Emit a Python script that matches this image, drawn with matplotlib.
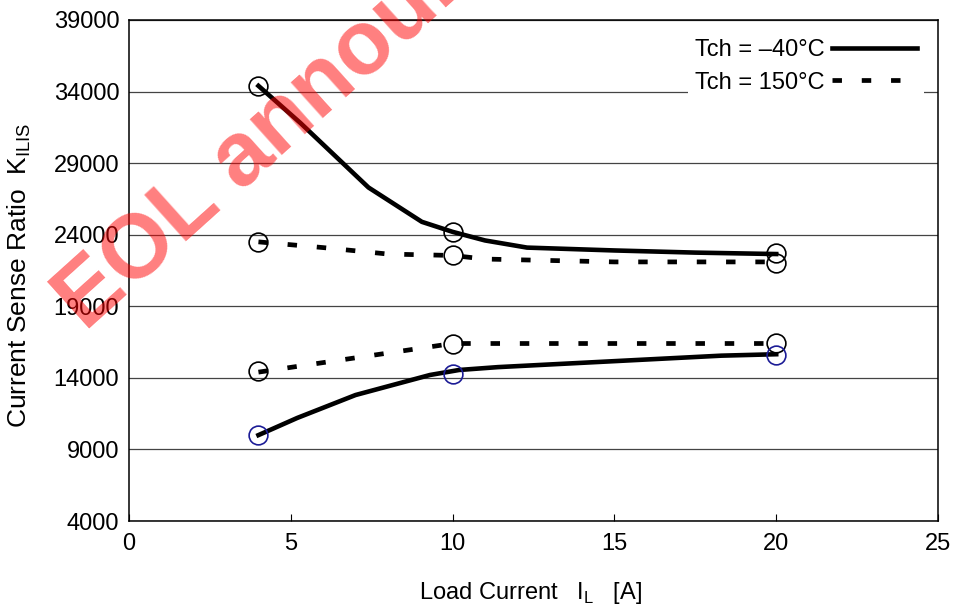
from matplotlib import pyplot as plt

plt.rcParams['font.family'] = ['Liberation Sans', 'DejaVu Sans']

# Tch = -40 C, upper and lower curves
x_cold_hi = [4, 5.3, 7.4, 9.05, 10, 11, 12.3, 15, 17.5, 20]
y_cold_hi = [34400, 31800, 27300, 24900, 24200, 23600, 23100, 22900, 22750, 22650]
x_cold_lo = [4, 5.2, 7, 9.3, 10.2, 11.4, 18.3, 20]
y_cold_lo = [10000, 11200, 12800, 14200, 14550, 14750, 15550, 15650]

# Tch = 150 C, upper and lower curves
x_hot_hi = [4, 6, 8, 10, 11, 15, 20]
y_hot_hi = [23500, 23100, 22650, 22550, 22300, 22100, 22100]
x_hot_lo = [4, 10, 20]
y_hot_lo = [14400, 16400, 16400]

# measured points (circles)
mk_x = [4, 10, 20, 4, 10, 20, 4, 10, 20]
mk_y = [34400, 24200, 22700, 23500, 22600, 22050, 14450, 16400, 16450]
mk_blue_x = [4, 10, 20]
mk_blue_y = [10000, 14250, 15600]

fig = plt.figure(figsize=(9.58, 6.12), dpi=100)
ax = fig.add_axes([129/958, 1-521/612, 809/958, 501/612])

ax.plot(x_cold_hi, y_cold_hi, c='k', lw=3.3, label='Tch = \u201340\u00b0C', zorder=3)
ax.plot(x_cold_lo, y_cold_lo, c='k', lw=3.3, zorder=3)
ax.plot(x_hot_hi, y_hot_hi, c='k', lw=3.4, ls=(0, (2.0, 4.2)), dash_capstyle='butt',
        label='Tch = 150\u00b0C', zorder=3)
ax.plot(x_hot_lo, y_hot_lo, c='k', lw=3.4, ls=(0, (2.0, 4.2)), dash_capstyle='butt', zorder=3)

ax.plot(mk_x, mk_y, ls='none', marker='o', ms=13.5, mfc='none', mec='k', mew=1.2, zorder=4)
ax.plot(mk_blue_x, mk_blue_y, ls='none', marker='o', ms=13.5, mfc='none', mec='#1c1c96', mew=1.2, zorder=4)

ax.set_xlim(0, 25)
ax.set_ylim(4000, 39000)
ax.set_xticks([0, 5, 10, 15, 20, 25])
ax.set_yticks(range(4000, 39001, 5000))
ax.yaxis.grid(True, color='#444444', lw=0.9)
ax.set_axisbelow(True)
for s in ax.spines.values():
    s.set_linewidth(1.1)

ax.tick_params(axis='x', direction='in', length=5, width=0.8, pad=9, labelsize=17)
ax.tick_params(axis='y', length=0, pad=7, labelsize=17)

ax.set_xlabel('Load Current   I$_\\mathregular{L}$   [A]', fontsize=17)
ax.xaxis.set_label_coords(0.496, -0.118)
ax.set_ylabel('Current Sense Ratio  K$_\\mathregular{ILIS}$', fontsize=19)
ax.yaxis.set_label_coords(-0.119, 0.49)

leg = ax.legend(loc='upper right', bbox_to_anchor=(0.997, 1.0), fontsize=17,
                markerfirst=False, handlelength=3.6, handletextpad=0.3,
                labelspacing=0.45, borderpad=0.3, fancybox=False)
leg.get_frame().set_edgecolor('none')
leg.get_frame().set_alpha(1)

# watermark
fig.text(85/958, 1-332/612, 'EOL announcement', fontsize=65, fontweight='bold',
         color='red', alpha=0.5, rotation=42, rotation_mode='anchor',
         ha='left', va='baseline', zorder=10)

plt.savefig('out.png', dpi=100)
